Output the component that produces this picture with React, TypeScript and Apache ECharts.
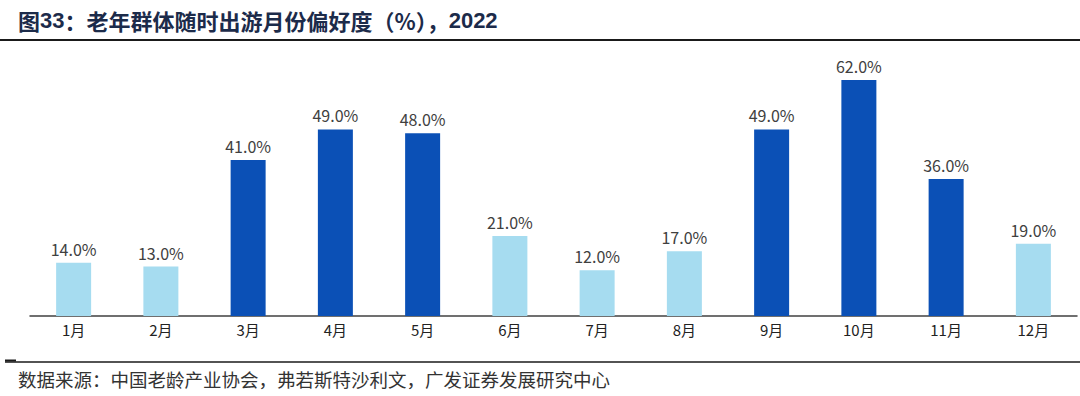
import React, { useEffect, useRef } from "react";
import * as echarts from "echarts";

const months = ["1月", "2月", "3月", "4月", "5月", "6月", "7月", "8月", "9月", "10月", "11月", "12月"];
const values = [14, 13, 41, 49, 48, 21, 12, 17, 49, 62, 36, 19];
const highlighted = [false, false, true, true, true, false, false, false, true, true, true, false];

const LIGHT = "#a6dcf0";
const DARK = "#0b50b6";

export default function App() {
  const ref = useRef<HTMLDivElement>(null);
  useEffect(() => {
    if (!ref.current) return;
    const chart = echarts.init(ref.current, undefined, { renderer: "svg" });
    chart.setOption({
      animation: false,
      backgroundColor: "#ffffff",
      grid: { left: 30, right: 3, top: 49.5, bottom: 80, containLabel: false },
      xAxis: {
        type: "category",
        data: months,
        axisLine: { show: true, lineStyle: { color: "#404040", width: 1.5 } },
        axisTick: { show: false },
        axisLabel: {
          color: "#222222",
          fontSize: 15,
          fontFamily: "Noto Sans CJK SC",
          margin: 6,
        },
      },
      yAxis: {
        type: "value",
        min: 0,
        max: 70,
        show: false,
        splitLine: { show: false },
      },
      series: [
        {
          type: "bar",
          barWidth: 35,
          data: values.map((v, i) => ({
            value: v,
            itemStyle: { color: highlighted[i] ? DARK : LIGHT },
          })),
          label: {
            show: true,
            position: "top",
            distance: 6,
            color: "#404040",
            fontSize: 16,
            fontFamily: "Noto Sans CJK SC",
            formatter: (p: any) => p.value.toFixed(1) + "%",
          },
        },
      ],
      graphic: [
        {
          type: "text",
          left: 18,
          top: 9,
          style: {
            text: "{c|图}{d|33}{c|：老年群体随时出游月份偏好度（%），}{d|2022}",
            fill: "#1c2b4a",
            rich: {
              c: { fontFamily: "Noto Sans CJK SC", fontSize: 22, fontWeight: "bold", fill: "#1c2b4a" },
              d: { fontFamily: "Liberation Sans", fontSize: 22, fontWeight: "bold", fill: "#1c2b4a" },
            },
          },
        },
        {
          type: "line",
          shape: { x1: 0, y1: 40, x2: 1080, y2: 40 },
          style: { stroke: "#1a1a1a", lineWidth: 2 },
        },
        {
          type: "line",
          shape: { x1: 5, y1: 362, x2: 1080, y2: 362 },
          style: { stroke: "#1a1a1a", lineWidth: 1.5 },
        },
        {
          type: "line",
          shape: { x1: 5, y1: 360.5, x2: 16, y2: 360.5 },
          style: { stroke: "#1a1a1a", lineWidth: 2 },
        },
        {
          type: "text",
          left: 18,
          top: 370,
          style: {
            text: "数据来源：中国老龄产业协会，弗若斯特沙利文，广发证券发展研究中心",
            fill: "#333333",
            font: "18.5px 'Noto Sans CJK SC', sans-serif",
          },
        },
      ],
    });
    return () => chart.dispose();
  }, []);
  return (
    <div
      ref={ref}
      style={{ position: "fixed", left: 0, top: 0, width: 1080, height: 396 }}
    />
  );
}
